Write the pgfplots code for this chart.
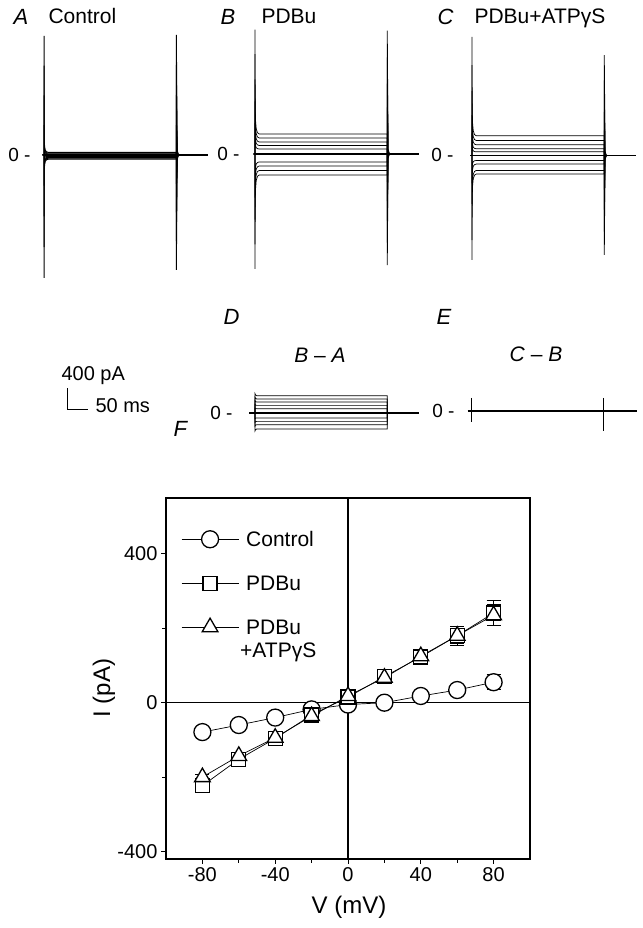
\documentclass[border=0pt]{standalone}
\usepackage{pgfplots}
\pgfplotsset{compat=1.18}
\usepackage{fontspec}
\setmainfont{Liberation Sans}
\pgfplotsset{
 trace/.style={scale only axis, axis lines=none, xmin=-10, xmax=400, ymin=-2500, ymax=2500,
   width=172.2pt, height=262.5pt, clip=false, anchor=south west},
 tr/.style={black, line width=0.7pt, mark=none},
}
\newcommand{\fs}[1]{\fontsize{#1}{#1}\selectfont}
\begin{document}
\begin{tikzpicture}[x=1pt,y=1pt]
\path[use as bounding box] (0,0) rectangle (642,928);

% ---------- Panel A ----------
\begin{axis}[trace, at={(39.8pt,641.75pt)}]
\addplot[tr, line width=1pt] coordinates {(-3,0)(0,0)(0,-2343)(0.5,-280)(1.5,-180)(3,-120)(6,-90)(10,-80)(315,-80)(315,2286)(317,91)(320,0)(390,0)};
\addplot[tr, line width=1pt] coordinates {(-3,0)(0,0)(0,-1757)(0.5,-212)(1.5,-137)(3,-92)(6,-70)(10,-62)(315,-62)(315,1715)(317,69)(320,0)(390,0)};
\addplot[tr, line width=1pt] coordinates {(-3,0)(0,0)(0,-1170)(0.5,-144)(1.5,-94)(3,-64)(6,-49)(10,-44)(315,-44)(315,1143)(317,46)(320,0)(390,0)};
\addplot[tr, line width=1pt] coordinates {(-3,0)(0,0)(0,-585)(0.5,-76)(1.5,-51)(3,-36)(6,-29)(10,-26)(315,-26)(315,571)(317,23)(320,0)(390,0)};
\addplot[tr, line width=1pt] coordinates {(-3,0)(0,0)(0,-10)(315,-10)(315,0)(390,0)};
\addplot[tr, line width=1pt] coordinates {(-3,0)(0,0)(0,567)(0.5,54)(1.5,29)(3,14)(6,7)(10,4)(315,4)(315,-548)(317,-22)(320,0)(390,0)};
\addplot[tr, line width=1pt] coordinates {(-3,0)(0,0)(0,1134)(0.5,118)(1.5,68)(3,38)(6,23)(10,18)(315,18)(315,-1095)(317,-44)(320,0)(390,0)};
\addplot[tr, line width=1pt] coordinates {(-3,0)(0,0)(0,1700)(0.5,184)(1.5,109)(3,64)(6,42)(10,34)(315,34)(315,-1643)(317,-66)(320,0)(390,0)};
\addplot[tr, line width=1pt] coordinates {(-3,0)(0,0)(0,2267)(0.5,250)(1.5,150)(3,90)(6,60)(10,50)(315,50)(315,-2190)(317,-88)(320,0)(390,0)};
\addplot[tr, line width=1.3pt] coordinates {(-3,0)(390,0)};
\end{axis}

% ---------- Panel B ----------
\begin{axis}[trace, at={(250.8pt,642.75pt)}]
\addplot[tr] coordinates {(-3,0)(0,0)(0,2370)(0.5,861)(1.5,621)(3,477)(6,405)(10,381)(315,381)(315,-2115)(317,-85)(320,0)(390,0)};
\addplot[tr] coordinates {(-3,0)(0,0)(0,1900)(0.5,685)(1.5,495)(3,381)(6,324)(10,305)(315,305)(315,-1690)(317,-68)(320,0)(390,0)};
\addplot[tr] coordinates {(-3,0)(0,0)(0,1420)(0.5,519)(1.5,374)(3,287)(6,243)(10,229)(315,229)(315,-1270)(317,-51)(320,0)(390,0)};
\addplot[tr] coordinates {(-3,0)(0,0)(0,1000)(0.5,362)(1.5,262)(3,202)(6,172)(10,162)(315,162)(315,-900)(317,-36)(320,0)(390,0)};
\addplot[tr] coordinates {(-3,0)(0,0)(0,590)(0.5,215)(1.5,155)(3,119)(6,101)(10,95)(315,95)(315,-530)(317,-21)(320,0)(390,0)};
\addplot[tr] coordinates {(-3,0)(0,0)(0,-830)(0.5,-342)(1.5,-247)(3,-190)(6,-162)(10,-152)(315,-152)(315,890)(317,36)(320,0)(390,0)};
\addplot[tr] coordinates {(-3,0)(0,0)(0,-1250)(0.5,-519)(1.5,-374)(3,-287)(6,-243)(10,-229)(315,-229)(315,1340)(317,54)(320,0)(390,0)};
\addplot[tr] coordinates {(-3,0)(0,0)(0,-1720)(0.5,-704)(1.5,-509)(3,-392)(6,-334)(10,-314)(315,-314)(315,1840)(317,74)(320,0)(390,0)};
\addplot[tr] coordinates {(-3,0)(0,0)(0,-2190)(0.5,-900)(1.5,-650)(3,-500)(6,-425)(10,-400)(315,-400)(315,2350)(317,94)(320,0)(390,0)};
\addplot[tr, line width=1.5pt] coordinates {(-3,0)(390,0)};
\end{axis}

% ---------- Panel C ----------
\begin{axis}[trace, at={(467.8pt,641.25pt)}]
\addplot[tr] coordinates {(-3,0)(0,0)(0,2257)(0.5,845)(1.5,610)(3,469)(6,399)(10,375)(315,375)(315,-1895)(317,-76)(320,0)(390,0)};
\addplot[tr] coordinates {(-3,0)(0,0)(0,1720)(0.5,646)(1.5,466)(3,358)(6,304)(10,286)(315,286)(315,-1450)(317,-58)(320,0)(390,0)};
\addplot[tr] coordinates {(-3,0)(0,0)(0,1230)(0.5,459)(1.5,332)(3,255)(6,217)(10,204)(315,204)(315,-1030)(317,-41)(320,0)(390,0)};
\addplot[tr] coordinates {(-3,0)(0,0)(0,770)(0.5,288)(1.5,208)(3,160)(6,136)(10,128)(315,128)(315,-650)(317,-26)(320,0)(390,0)};
\addplot[tr] coordinates {(-3,0)(0,0)(0,420)(0.5,158)(1.5,114)(3,88)(6,74)(10,70)(315,70)(315,-350)(317,-14)(320,0)(390,0)};
\addplot[tr] coordinates {(-3,0)(0,0)(0,-530)(0.5,-215)(1.5,-155)(3,-119)(6,-101)(10,-95)(315,-95)(315,480)(317,19)(320,0)(390,0)};
\addplot[tr] coordinates {(-3,0)(0,0)(0,-920)(0.5,-369)(1.5,-267)(3,-205)(6,-174)(10,-164)(315,-164)(315,830)(317,33)(320,0)(390,0)};
\addplot[tr] coordinates {(-3,0)(0,0)(0,-1610)(0.5,-646)(1.5,-466)(3,-358)(6,-304)(10,-286)(315,-286)(315,1430)(317,57)(320,0)(390,0)};
\addplot[tr] coordinates {(-3,0)(0,0)(0,-1990)(0.5,-794)(1.5,-574)(3,-442)(6,-376)(10,-354)(315,-354)(315,1914)(317,77)(320,0)(390,0)};
\addplot[tr, line width=1.5pt] coordinates {(-3,0)(390,0)};
\end{axis}

% ---------- Panel D ----------
\begin{axis}[trace, at={(250.8pt,383.75pt)}]
\addplot[tr] coordinates {(0,0)(0,370)(1.5,343)(4,330)(315,330)(315,0)};
\addplot[tr] coordinates {(0,0)(0,299)(1.5,278)(4,267)(315,267)(315,0)};
\addplot[tr] coordinates {(0,0)(0,235)(1.5,218)(4,210)(315,210)(315,0)};
\addplot[tr] coordinates {(0,0)(0,162)(1.5,151)(4,145)(315,145)(315,0)};
\addplot[tr] coordinates {(0,0)(0,92)(1.5,85)(4,82)(315,82)(315,0)};
\addplot[tr] coordinates {(0,0)(0,-106)(1.5,-99)(4,-95)(315,-95)(315,0)};
\addplot[tr] coordinates {(0,0)(0,-179)(1.5,-166)(4,-160)(315,-160)(315,0)};
\addplot[tr] coordinates {(0,0)(0,-250)(1.5,-232)(4,-223)(315,-223)(315,0)};
\addplot[tr] coordinates {(0,0)(0,-342)(1.5,-317)(4,-305)(315,-305)(315,0)};
\addplot[tr, line width=1.5pt] coordinates {(-14,0)(390,0)};
% scale bar: 400 pA, 50 ms
\addplot[tr, line width=1pt] coordinates {(-447.6,476)(-447.6,76)(-397.6,76)};
\end{axis}

% ---------- Panel E ----------
\begin{axis}[trace, at={(466.8pt,385.75pt)}]
\addplot[tr, line width=2pt] coordinates {(-8,0)(395,0)};
\addplot[tr] coordinates {(0,250)(0,-210)};
\addplot[tr] coordinates {(315,250)(315,-380)};
\end{axis}

% ---------- Panel F ----------
\begin{axis}[at={(166pt,69pt)}, anchor=south west, scale only axis, width=364pt, height=361pt,
  xmin=-100, xmax=100, ymin=-420, ymax=550,
  xtick={-80,-40,0,40,80}, xticklabels={-80,-40,0,40,80},
  minor xtick={-60,-20,20,60},
  ytick={-400,0,400}, yticklabels={-400,0,400},
  minor ytick={-200,200},
  tick align=outside, major tick length=5pt, minor tick length=4pt,
  xtick pos=bottom, ytick pos=left,
  tick style={black, line width=1pt},
  axis line style={line width=1.2pt},
  tick label style={font=\fs{20}},
  clip=false,
  legend cell align=left,
  legend style={at={(0.041,0.914)}, anchor=north west, draw=none, fill=none, font=\fontsize{21}{23}\selectfont,
     cells={anchor=base west, inner ysep=0pt}, row sep=24pt, inner sep=0pt, outer sep=0pt,
     /tikz/every odd column/.append style={column sep=5pt}},
  legend image code/.code={\draw[mark repeat=2,mark phase=2,line width=1.3pt,#1] plot coordinates {(0pt,7pt)(28.5pt,7pt)(57pt,7pt)};},
]
\addplot[black, line width=1.2pt, forget plot] coordinates {(-100,0)(100,0)};
\addplot[black, line width=1.2pt, forget plot] coordinates {(0,-420)(0,550)};
\addplot[black, line width=0.7pt, mark=*, mark size=8.5pt, mark options={fill=white, line width=1.3pt},
   error bars/.cd, y dir=both, y explicit, error mark options={rotate=90, mark size=7pt, line width=1pt}]
 coordinates {(-80,-79)+-(0,5)(-60,-60)+-(0,5)(-40,-40)+-(0,6)(-20,-18)+-(0,8)(0,-5)+-(0,6)(20,0)+-(0,5)(40,18)+-(0,6)(60,34)+-(0,8)(80,55)+-(0,20)};
\addlegendentry{Control}
\addplot[black, line width=0.7pt, mark=square*, mark size=7pt, mark options={fill=white, line width=1.3pt},
   error bars/.cd, y dir=both, y explicit, error mark options={rotate=90, mark size=7pt, line width=1pt}]
 coordinates {(-80,-223)+-(0,8)(-60,-152)+-(0,8)(-40,-96)+-(0,8)(-20,-33)+-(0,8)(0,15)+-(0,8)(20,70)+-(0,10)(40,123)+-(0,12)(60,180)+-(0,25)(80,241)+-(0,33)};
\addlegendentry{PDBu}
\addplot[black, line width=0.7pt, mark=triangle*, mark size=9pt, mark options={fill=white, line width=1.3pt},
   error bars/.cd, y dir=both, y explicit, error mark options={rotate=90, mark size=7pt, line width=1pt}]
 coordinates {(-80,-200)+-(0,8)(-60,-143)+-(0,8)(-40,-94)+-(0,8)(-20,-36)+-(0,8)(0,18)+-(0,8)(20,67)+-(0,10)(40,125)+-(0,10)(60,180)+-(0,20)(80,235)+-(0,28)};
\addlegendentry{\vtop{\hbox{PDBu}\hbox{\kern-6pt+ATPγS}}}
\end{axis}

% ---------- texts ----------
\node[anchor=base west, font=\fs{22}\itshape] at (10,903) {A};
\node[anchor=base west, font=\fs{21}] at (45,904.7) {Control};
\node[anchor=base west, font=\fs{22}\itshape] at (217,903) {B};
\node[anchor=base west, font=\fs{21}] at (258,904.7) {PDBu};
\node[anchor=base west, font=\fs{22}\itshape] at (434,903) {C};
\node[anchor=base west, font=\fs{21}] at (471,904.7) {PDBu+ATPγS};
\node[anchor=base east, font=\fs{19}] at (34,766.5) {0 -};
\node[anchor=base east, font=\fs{19}] at (243,767.5) {0 -};
\node[anchor=base east, font=\fs{19}] at (457,766) {0 -};
\node[anchor=base west, font=\fs{22}\itshape] at (220,603) {D};
\node[anchor=base west, font=\fs{22}\itshape] at (433,603) {E};
\node[anchor=base, font=\fs{21}] at (320,565) {\textit{B} – \textit{A}};
\node[anchor=base, font=\fs{21}] at (536,566) {\textit{C} – \textit{B}};
\node[anchor=base east, font=\fs{19}] at (236,508.5) {0 -};
\node[anchor=base east, font=\fs{19}] at (458,510.5) {0 -};
\node[anchor=base west, font=\fs{20}] at (58,547.5) {400 pA};
\node[anchor=base west, font=\fs{20}] at (92,515) {50 ms};
\node[anchor=base west, font=\fs{22}\itshape] at (170,491) {F};
\node[font=\fs{24}] at (349,21) {V (mV)};
\node[font=\fs{24}, rotate=90] at (104,240) {I (pA)};
\end{tikzpicture}
\end{document}
